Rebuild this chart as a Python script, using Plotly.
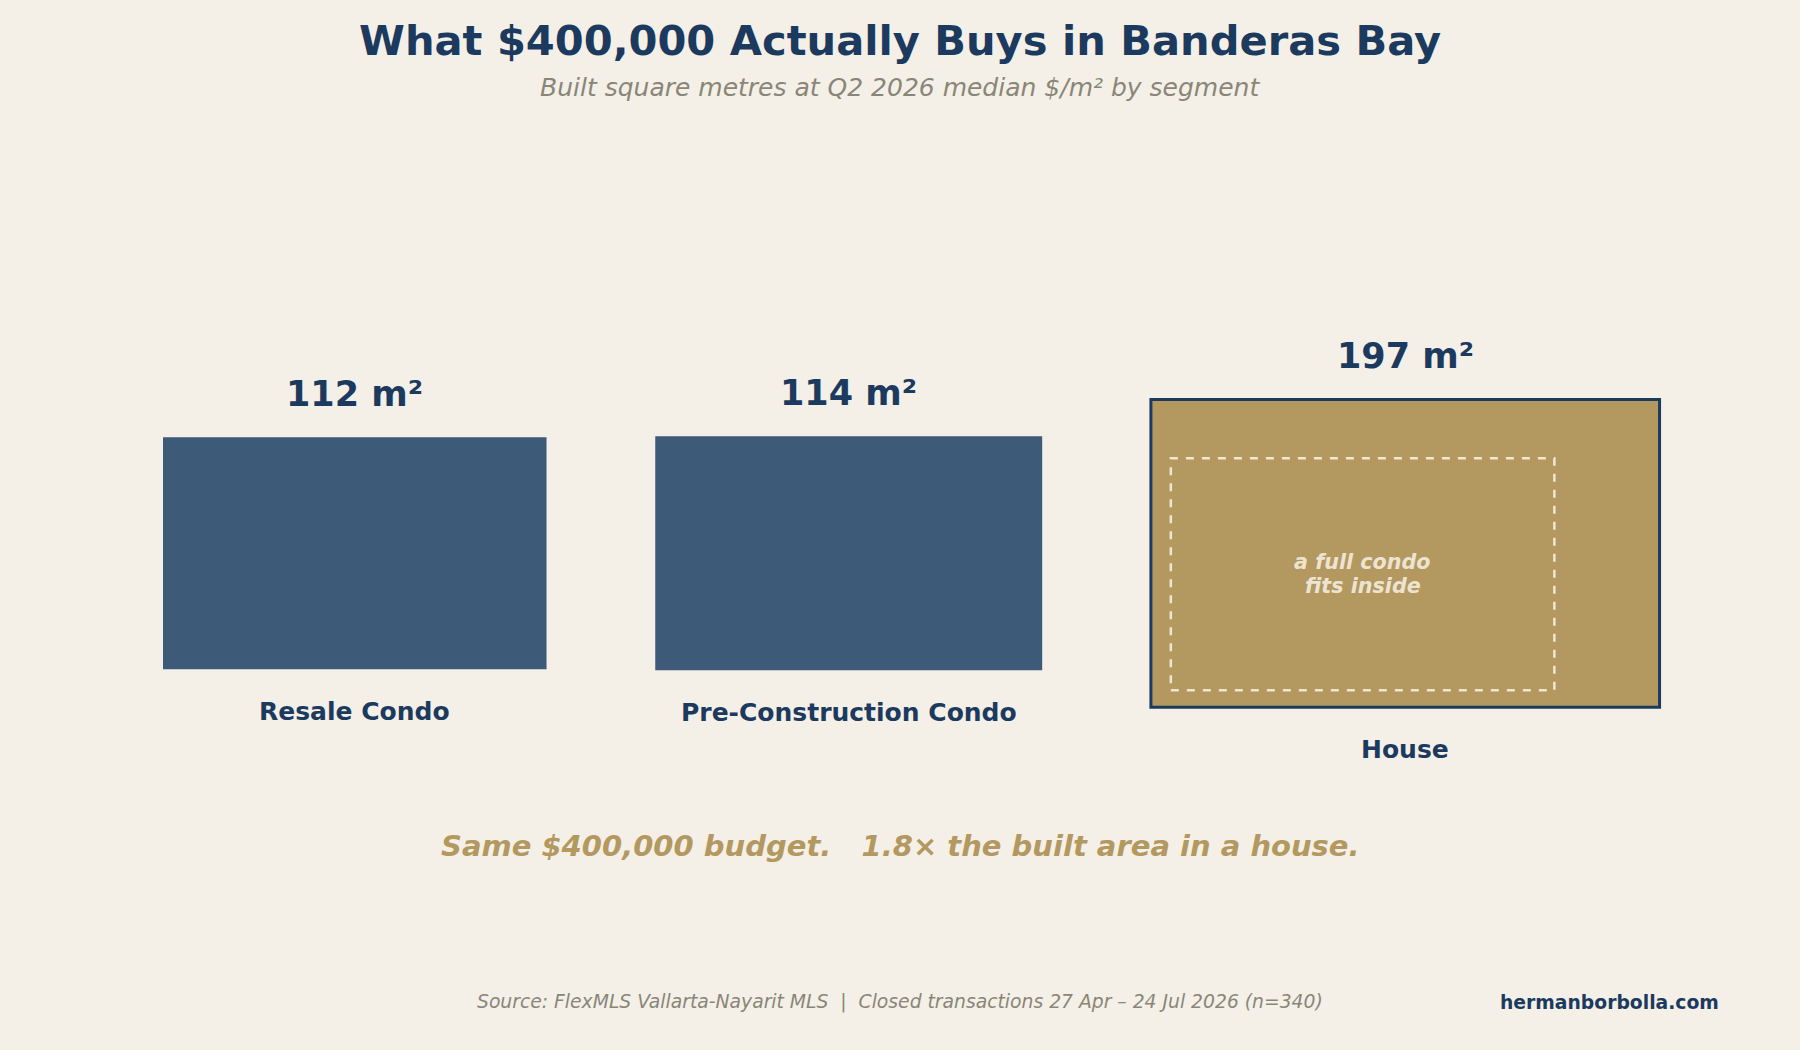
import numpy as np
import plotly.graph_objects as go

# data
segments = ["Resale Condo", "Pre-Construction Condo", "House"]
built_m2 = [112, 114, 197]
budget = 400000
ratio_text = "1.8×"

# colours
BG = "#f4f0e8"
NAVY = "#1c3a5e"
CONDO = "#3d5a78"
GOLD = "#b3985f"
GREY = "#8a8677"
CREAM = "rgba(245,238,225,0.9)"
FONT = "DejaVu Sans"

GAP = 3.0  # space between the squares (data units)

# each square has side sqrt(area); all vertically centred on y=0
sides = np.sqrt(np.array(built_m2, dtype=float))
lefts = np.concatenate([[0.0], np.cumsum(sides[:-1] + GAP)])
rights = lefts + sides
tops = sides / 2
bottoms = -sides / 2

fig = go.Figure()

# invisible trace so the axes are drawn with the right ranges
fig.add_trace(go.Scatter(x=(lefts + rights) / 2, y=np.zeros(len(sides)),
                         mode="markers", marker=dict(opacity=0), hoverinfo="skip",
                         showlegend=False))

shapes = []
annotations = []
for i, seg in enumerate(segments):
    is_house = seg == "House"
    shapes.append(dict(
        type="rect", xref="x", yref="y",
        x0=lefts[i], x1=rights[i], y0=bottoms[i], y1=tops[i],
        fillcolor=GOLD if is_house else CONDO,
        line=dict(color=NAVY, width=3) if is_house else dict(width=0),
        layer="below",
    ))
    annotations.append(dict(
        x=(lefts[i] + rights[i]) / 2, y=tops[i], xref="x", yref="y",
        text=f"<b>{built_m2[i]} m²</b>", showarrow=False,
        yanchor="middle", yshift=43,
        font=dict(family=FONT, size=35, color=NAVY),
    ))
    annotations.append(dict(
        x=(lefts[i] + rights[i]) / 2, y=bottoms[i], xref="x", yref="y",
        text=f"<b>{seg}</b>", showarrow=False,
        yanchor="middle", yshift=-42,
        font=dict(family=FONT, size=25, color=NAVY),
    ))

# a resale condo drawn inside the house
h = segments.index("House")
c = segments.index("Resale Condo")
ix0 = lefts[h] + 0.55
iy0 = bottoms[h] + 0.77
shapes.append(dict(
    type="rect", xref="x", yref="y",
    x0=ix0, x1=ix0 + sides[c], y0=iy0, y1=iy0 + sides[c],
    fillcolor="rgba(0,0,0,0)",
    line=dict(color=CREAM, width=2.5, dash="8px,8px"),
))
for line_txt, shift in [("a full condo", 12), ("fits inside", -12)]:
    annotations.append(dict(
        x=ix0 + sides[c] / 2, y=iy0 + sides[c] / 2, xref="x", yref="y",
        text=f"<b><i>{line_txt}</i></b>", showarrow=False,
        yanchor="middle", yshift=shift,
        font=dict(family=FONT, size=20.7, color=CREAM),
    ))

# titles and footer
annotations += [
    dict(x=0.5, y=1 - 41 / 1050, xref="paper", yref="paper", showarrow=False,
         yanchor="middle",
         text=f"<b>What ${budget:,} Actually Buys in Banderas Bay</b>",
         font=dict(family=FONT, size=41.6, color=NAVY)),
    dict(x=0.5, y=1 - 87 / 1050, xref="paper", yref="paper", showarrow=False,
         yanchor="middle",
         text="<i>Built square metres at Q2 2026 median $/m² by segment</i>",
         font=dict(family=FONT, size=25, color=GREY)),
    dict(x=0.5, y=1 - 846 / 1050, xref="paper", yref="paper", showarrow=False,
         yanchor="middle",
         text=f"<b><i>Same ${budget:,} budget.   {ratio_text} the built area in a house.</i></b>",
         font=dict(family=FONT, size=29, color=GOLD)),
    dict(x=0.5, y=1 - 1002 / 1050, xref="paper", yref="paper", showarrow=False,
         yanchor="middle",
         text="<i>Source: FlexMLS Vallarta-Nayarit MLS  |  Closed transactions 27 Apr – 24 Jul 2026 (n=340)</i>",
         font=dict(family=FONT, size=18.75, color=GREY)),
    dict(x=1721 / 1800, y=1 - 1002 / 1050, xref="paper", yref="paper", showarrow=False,
         xanchor="right", yanchor="middle",
         text="<b>hermanborbolla.com</b>",
         font=dict(family=FONT, size=18.75, color=NAVY)),
]

# pixel scale: x 36.24 px/unit, y 21.92 px/unit, resale left at 163px, centre line at 553px
XS, YS = 36.24, 21.92
x0_px, yc_px = 163.0, 553.3
fig.update_layout(
    width=1800, height=1050,
    margin=dict(l=0, r=0, t=0, b=0),
    paper_bgcolor=BG, plot_bgcolor=BG,
    xaxis=dict(range=[-x0_px / XS, (1800 - x0_px) / XS], visible=False, fixedrange=True),
    yaxis=dict(range=[-(1050 - yc_px) / YS, yc_px / YS], visible=False, fixedrange=True),
    shapes=shapes,
    annotations=annotations,
    showlegend=False,
)

fig.write_html("out.html", config={"displayModeBar": False},
               post_script="document.body.style.margin='0';")
